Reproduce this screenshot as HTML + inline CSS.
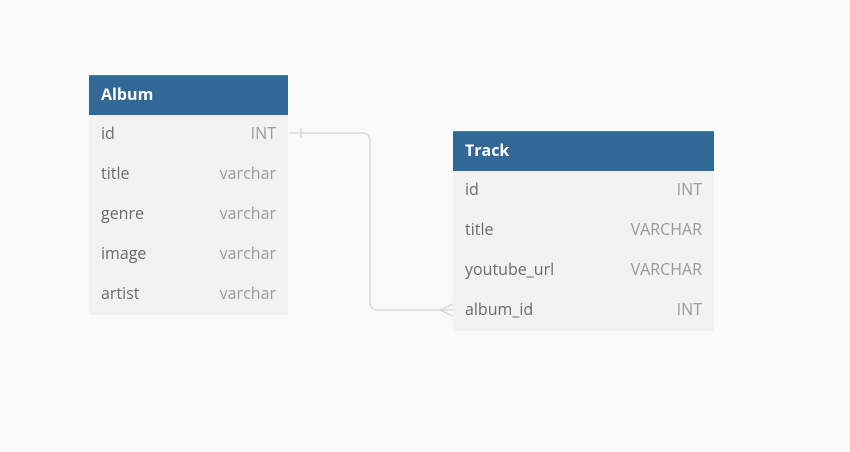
<!DOCTYPE html>
<html><head><meta charset="utf-8"><style>
body{margin:0;width:850px;height:452px;background:#fafafa;font-family:"Open Sans","Liberation Sans","DejaVu Sans",sans-serif;position:relative;overflow:hidden}
.t{position:absolute;background:#f2f2f2}
.h{background:#316896;color:#fff;font-weight:bold;font-size:16px;height:40px;line-height:37px;padding-left:12px;border-top:1px solid #4a82b0;box-sizing:border-box}
.r{height:40px;line-height:37px;font-size:16px;color:#6a6a6a;padding:0 12px;display:flex;justify-content:space-between}
.r span:last-child{color:#9a9a9a}
</style></head><body>
<svg width="850" height="452" style="position:absolute;left:0;top:0">
<path d="M289 133 H362 Q370 133 370 141 V302 Q370 310 378 310 H453" fill="none" stroke="#d4d4d4" stroke-width="1.3"/>
<line x1="301" y1="128" x2="301" y2="138" stroke="#d4d4d4" stroke-width="1.3"/>
<path d="M453 304 L440 310 L453 316" fill="none" stroke="#d4d4d4" stroke-width="1.3"/>
</svg>
<div class="t" style="left:89px;top:75px;width:199px">
<div class="h">Album</div>
<div class="r"><span>id</span><span>INT</span></div>
<div class="r"><span>title</span><span>varchar</span></div>
<div class="r"><span>genre</span><span>varchar</span></div>
<div class="r"><span>image</span><span>varchar</span></div>
<div class="r"><span>artist</span><span>varchar</span></div>
</div>
<div class="t" style="left:453px;top:131px;width:261px">
<div class="h">Track</div>
<div class="r"><span>id</span><span>INT</span></div>
<div class="r"><span>title</span><span>VARCHAR</span></div>
<div class="r"><span>youtube_url</span><span>VARCHAR</span></div>
<div class="r"><span>album_id</span><span>INT</span></div>
</div>
</body></html>
